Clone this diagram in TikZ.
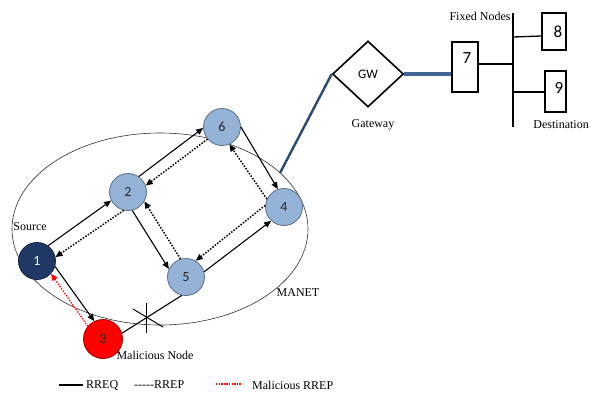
\documentclass[tikz,border=0pt]{standalone}
\usepackage{fontspec}
\setmainfont{Liberation Serif}
\newfontfamily\numfont{Carlito}
\usetikzlibrary{arrows.meta,shapes.geometric}
\definecolor{navy}{HTML}{1F3864}
\definecolor{navyline}{HTML}{12233F}
\definecolor{lblue}{HTML}{95B3D7}
\definecolor{lbluel}{HTML}{5B708A}
\definecolor{gwline}{HTML}{2A4A72}
\definecolor{fixline}{HTML}{3F6592}
\tikzset{
  mnode/.style={circle, minimum size=37pt, inner sep=0pt, line width=0.8pt,
    font=\numfont\fontsize{14}{14}\selectfont},
  bnode/.style={mnode, draw=lbluel, fill=lblue, text=black!85},
  req/.style={-{Triangle[length=7pt,width=6pt]}, line width=1.1pt, black},
  rep/.style={-{Triangle[length=7pt,width=6pt]}, line width=1.5pt, black,
    dash pattern=on 1.5pt off 1.5pt},
  mrep/.style={-{Triangle[length=7pt,width=6pt]}, line width=1.3pt, red,
    dash pattern=on 1.4pt off 1.4pt},
  fbox/.style={draw, line width=1.6pt, inner sep=0pt},
  boxnum/.style={font=\numfont\fontsize{17}{17}\selectfont},
  lbl/.style={font=\fontsize{12}{14}\selectfont, inner sep=0pt},
  bus/.style={line width=1.3pt},
}
\begin{document}
\begin{tikzpicture}[x=1pt,y=-1pt]
\useasboundingbox (0,0) rectangle (590,394);
\fill[white] (0,0) rectangle (590,394);

% MANET boundary
\draw[line width=0.6pt, black!80] (160,229) ellipse [x radius=148, y radius=96];

% nodes
\node[mnode, draw=navyline, fill=navy, text=white] (n1) at (37,261) {1};
\node[bnode] (n2) at (128,192) {2};
\node[bnode] (n6) at (222,127) {6};
\node[bnode] (n4) at (284,207) {4};
\node[bnode] (n5) at (186,277) {5};
\node[mnode, minimum size=39pt, draw=red!60!black, fill=red, text=black!85] (n3) at (103,339) {3};

% RREQ / RREP
\draw[req] (n1.54) -- (n2.207);
\draw[rep] (n2.257) -- (n1.12);
\draw[req] (n2.55) -- (n6.183);
\draw[rep] (n6.220) -- (n2.20);
\draw[req] (n6.0) -- (n4.109);
\draw[rep] (n4.155) -- (n6.293);
\draw[req] (n2.283) -- (n5.155);
\draw[rep] (n5.107) -- (n2.330);
\draw[req] (n5.16) -- (n4.227);
\draw[rep] (n4.175) -- (n5.59);
\draw[req] (n1.343) -- (n3.116);
\draw[mrep] (n3.140) -- (n1.318);
\draw[line width=1.1pt] (n3.17) -- (n5.257);
% broken link mark
\coordinate (xc) at (146,318);
\draw[line width=1pt] ([shift={(-13,-9)}]xc) -- ([shift={(17,9)}]xc);
\draw[line width=1pt] ([shift={(0,-15)}]xc) -- ([shift={(0,15)}]xc);

% gateway
\node[diamond, draw, line width=1.6pt, minimum width=71pt, minimum height=66pt,
  inner sep=0pt, font=\numfont\fontsize{13}{13}\selectfont] (gw) at (368,74) {GW};
\coordinate (gwstart) at (280,173);
\draw[gwline, line width=2.4pt] (gwstart) -- (gw.west);

% fixed nodes
\node[fbox, minimum width=26pt, minimum height=50pt] (b7) at (465,67) {};
\node[boxnum] (t7) at (467,58) {7};
\node[fbox, minimum width=24pt, minimum height=37pt] (b8) at (554,31.5) {};
\node[boxnum] (t8) at (558,32) {8};
\node[fbox, minimum width=21pt, minimum height=41pt] (b9) at (555.5,91.5) {};
\node[boxnum] (t9) at (559,88) {9};
\draw[fixline, line width=4pt] (gw.east) -- (b7.west |- gw.east);

\coordinate (bustop) at (513,13);
\coordinate (busbot) at (513,127);
\draw[bus] (bustop) -- (busbot);
\draw[bus] (b7.east |- 0,64) -- (513,64);
\draw[bus] (513,37) -- (b8.west |- 0,36);
\draw[bus] (513,92) -- (b9.west |- 0,92);

% labels
\node[lbl] (lsrc) at (30,227) {Source};
\node[lbl] (lmal) at (155,355) {Malicious Node};
\node[lbl] (lman) at (298,293) {MANET};
\node[lbl] (lgw) at (373,125) {Gateway};
\node[lbl] (lfix) at (480,16) {Fixed Nodes};
\node[lbl, anchor=east] (ldst) at (589,125) {Destination};

% legend
\coordinate (lg1a) at (59,385);
\coordinate (lg1b) at (83,385);
\draw[line width=1.6pt] (lg1a) -- (lg1b);
\node[lbl, anchor=west] (lreq) at (86,385) {RREQ};
\node[lbl, anchor=west] (lrep) at (134,385) {{-}{-}{-}{-}{-}RREP};
\coordinate (lg3a) at (216,384);
\coordinate (lg3b) at (241,384);
\draw[red, line width=1.2pt, dash pattern=on 1.3pt off 1.3pt] (lg3a) -- (lg3b);
\node[lbl, anchor=west] (lmr) at (252,385) {Malicious RREP};
\end{tikzpicture}
\end{document}
